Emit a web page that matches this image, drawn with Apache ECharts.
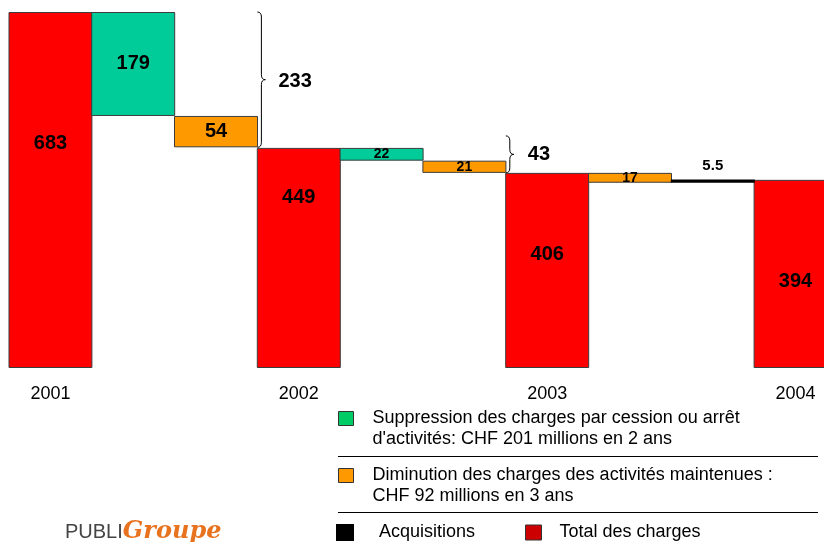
<!DOCTYPE html>
<html>
<head>
<meta charset="utf-8">
<script src="https://cdn.jsdelivr.net/npm/echarts@6/dist/echarts.min.js"></script>
<style>
html, body { margin: 0; padding: 0; background: #fff; }
#chart { width: 824px; height: 542px; }
</style>
</head>
<body>
<div id="chart"></div>
<script>
// 数据
var categories = ['2001', '', '', '2002', '', '', '2003', '', '', '2004'];
var totals = [683, 449, 406, 394];            // Total des charges
var totalIdx = [0, 3, 6, 9];
var cessions = [179, 22];                     // Suppression des charges
var cessionIdx = [1, 4];
var diminutions = [54, 21, 17];               // Diminution des charges
var diminutionIdx = [2, 5, 7];
var acquisitions = [5.5];                     // Acquisitions (hausse)
var acquisitionIdx = [8];
var braceValues = [233, 43];
var axisMin = 70;                              // axe tronqué

var names = [
    'Suppression des charges par cession ou arrêt\nd\'activités: CHF 201 millions en 2 ans',
    'Diminution des charges des activités maintenues :\nCHF 92 millions en 3 ans',
    'Acquisitions',
    'Total des charges'
];

// décalage vertical des étiquettes des totaux (style)
var totalLabelDy = [-47, -60, -16, 8];

var FONT = 'Arial, "Liberation Sans", sans-serif';

(function () {
    var myChart = echarts.init(document.getElementById('chart'));

    // construire la cascade
    var n = categories.length;
    var base = [], red = [], green = [], orange = [], black = [];
    for (var i = 0; i < n; i++) { base.push('-'); red.push('-'); green.push('-'); orange.push('-'); black.push('-'); }
    var level = 0;
    var levels = [];
    for (var i = 0; i < n; i++) {
        var t = totalIdx.indexOf(i), g = cessionIdx.indexOf(i), o = diminutionIdx.indexOf(i), a = acquisitionIdx.indexOf(i);
        if (t >= 0) {
            level = totals[t];
            base[i] = axisMin;
            red[i] = {
                value: level - axisMin,
                label: { formatter: String(totals[t]), offset: [0, totalLabelDy[t]] }
            };
        } else if (g >= 0) {
            level -= cessions[g];
            base[i] = level;
            green[i] = cessions[g];
        } else if (o >= 0) {
            level -= diminutions[o];
            base[i] = level;
            orange[i] = diminutions[o];
        } else if (a >= 0) {
            base[i] = level;
            black[i] = acquisitions[a];
            level += acquisitions[a];
        }
        levels.push(level);
    }

    function smallIfThin(v) {
        return (v !== '-' && v < 50) ? { value: v, label: { fontSize: 14 } } : v;
    }

    var border = { borderColor: '#3c3c3c', borderWidth: 1 };
    var bigLabel = { show: true, position: 'inside', color: '#000', fontWeight: 'bold', fontSize: 20, fontFamily: FONT };
    var legendText = { fontSize: 18, lineHeight: 21, color: '#000', fontFamily: FONT };

    var option = {
        animation: false,
        backgroundColor: '#fff',
        grid: { left: 9, top: 12, width: 828, height: 356, containLabel: false, outerBoundsMode: 'none' },
        xAxis: {
            type: 'category',
            data: categories,
            axisLine: { show: false },
            axisTick: { show: false },
            axisLabel: { interval: 0, color: '#000', fontSize: 18, margin: 17, fontFamily: FONT }
        },
        yAxis: {
            type: 'value', min: axisMin, max: totals[0], show: false,
            splitLine: { show: false }
        },
        legend: [
            {
                left: 338, top: 387, padding: 0, itemWidth: 15, itemHeight: 14, icon: 'rect',
                formatter: function (name) { return '\n' + name; },
                data: [{ name: names[0], itemStyle: { color: '#00cc66', borderColor: '#333', borderWidth: 1 } }],
                textStyle: Object.assign({ padding: [0, 0, 0, 14] }, legendText)
            },
            {
                left: 338, top: 444, padding: 0, itemWidth: 15, itemHeight: 14, icon: 'rect',
                formatter: function (name) { return '\n' + name; },
                data: [{ name: names[1], itemStyle: { color: '#ff9900', borderColor: '#333', borderWidth: 1 } }],
                textStyle: Object.assign({ padding: [0, 0, 0, 14] }, legendText)
            },
            {
                left: 336, top: 522, padding: 0, itemWidth: 16, itemHeight: 15, icon: 'rect',
                data: [{ name: names[2], itemStyle: { color: '#000' } }],
                textStyle: Object.assign({ padding: [0, 0, 0, 21] }, legendText)
            },
            {
                left: 525, top: 522, padding: 0, itemWidth: 16, itemHeight: 15, icon: 'rect',
                data: [{ name: names[3], itemStyle: { color: '#cc0000', borderColor: '#333', borderWidth: 1 } }],
                textStyle: Object.assign({ padding: [0, 0, 0, 13] }, legendText)
            }
        ],
        series: [
            {
                name: 'base', type: 'bar', stack: 'w', barWidth: 84,
                itemStyle: { color: 'transparent' }, silent: true, data: base
            },
            {
                name: names[3], type: 'bar', stack: 'w', barWidth: 84,
                itemStyle: Object.assign({ color: '#ff0000' }, border),
                label: bigLabel, data: red
            },
            {
                name: names[0], type: 'bar', stack: 'w', barWidth: 84,
                itemStyle: Object.assign({ color: '#00cc99' }, border),
                label: bigLabel, data: green.map(smallIfThin)
            },
            {
                name: names[1], type: 'bar', stack: 'w', barWidth: 84,
                itemStyle: Object.assign({ color: '#ff9900' }, border),
                label: bigLabel, data: orange.map(smallIfThin)
            },
            {
                name: names[2], type: 'bar', stack: 'w', barWidth: 84,
                itemStyle: { color: '#000', borderColor: '#000', borderWidth: 2 },
                label: { show: true, position: 'top', distance: 6, color: '#000', fontWeight: 'bold', fontSize: 15, fontFamily: FONT },
                data: black
            }
        ]
    };
    myChart.setOption(option);

    // accolades et textes annexes
    function px(idx, v) { return myChart.convertToPixel({ gridIndex: 0 }, [idx, v]); }
    function brace(x, y1, y2, w) {
        var ym = (y1 + y2) / 2, h = x + w / 2, r = 5;
        var st = { stroke: '#000', lineWidth: 1, fill: 'none' };
        return [
            { type: 'bezierCurve', shape: { x1: x, y1: y1, cpx1: h, cpy1: y1, x2: h, y2: y1 + r }, style: st },
            { type: 'line', shape: { x1: h, y1: y1 + r, x2: h, y2: ym - r }, style: st },
            { type: 'bezierCurve', shape: { x1: h, y1: ym - r, cpx1: h, cpy1: ym, x2: x + w, y2: ym }, style: st },
            { type: 'bezierCurve', shape: { x1: x + w, y1: ym, cpx1: h, cpy1: ym, x2: h, y2: ym + r }, style: st },
            { type: 'line', shape: { x1: h, y1: ym + r, x2: h, y2: y2 - r }, style: st },
            { type: 'bezierCurve', shape: { x1: h, y1: y2 - r, cpx1: h, cpy1: y2, x2: x, y2: y2 }, style: st }
        ];
    }
    var bx1 = (px(2, 0)[0] + px(3, 0)[0]) / 2;
    var bx2 = (px(5, 0)[0] + px(6, 0)[0]) / 2;
    var b1top = px(0, totals[0])[1], b1bot = px(2, levels[2])[1];
    var b2top = px(3, totals[1])[1] - 12, b2bot = px(6, totals[2])[1];

    var elements = []
        .concat(brace(bx1, b1top, b1bot, 8))
        .concat(brace(bx2, b2top, b2bot, 8));
    elements.push(
        { type: 'text', x: bx1 + 21, y: (b1top + b1bot) / 2 + 2, style: { text: String(braceValues[0]), fill: '#000', font: 'bold 20px ' + FONT, verticalAlign: 'middle' } },
        { type: 'text', x: bx2 + 22, y: (b2top + b2bot) / 2, style: { text: String(braceValues[1]), fill: '#000', font: 'bold 20px ' + FONT, verticalAlign: 'middle' } },
        // séparateurs de la légende
        { type: 'line', shape: { x1: 338, y1: 456.5, x2: 818, y2: 456.5 }, style: { stroke: '#000', lineWidth: 1 } },
        { type: 'line', shape: { x1: 338, y1: 512.5, x2: 818, y2: 512.5 }, style: { stroke: '#000', lineWidth: 1 } },
        // logo
        {
            type: 'text', x: 65, y: 532,
            style: {
                text: '{a|PUBLI}{b|Groupe}', verticalAlign: 'middle',
                rich: {
                    a: { fill: '#444', fontSize: 20, fontFamily: '"Liberation Sans", Arial, sans-serif' },
                    b: { fill: '#e8731f', fontSize: 24, fontWeight: 'bold', fontStyle: 'italic', fontFamily: '"DejaVu Serif", serif' }
                }
            }
        }
    );
    myChart.setOption({ graphic: { elements: elements } });
})();
</script>
</body>
</html>
